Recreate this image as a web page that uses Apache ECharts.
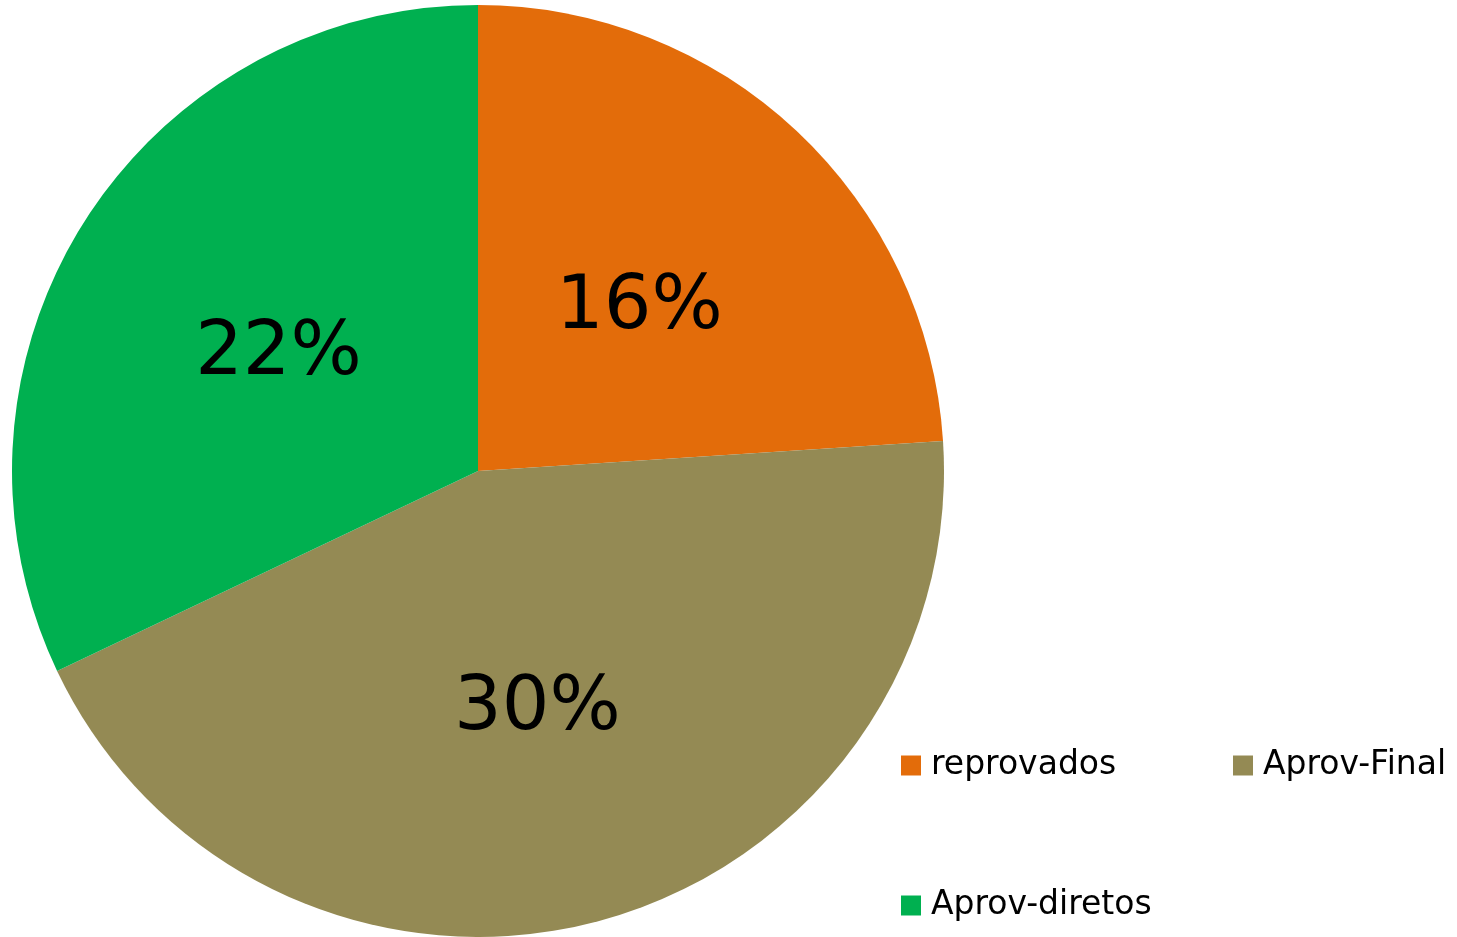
<!DOCTYPE html>
<html>
<head>
<meta charset="utf-8">
<script src="https://cdn.jsdelivr.net/npm/echarts@6/dist/echarts.min.js"></script>
<style>
html,body{margin:0;padding:0;background:#fff;}
#main{width:1457px;height:937px;}
</style>
</head>
<body>
<div id="main"></div>
<script>
const categories = ['reprovados', 'Aprov-Final', 'Aprov-diretos'];
// slice sizes estimated from the drawn angles; labels show rounded values
const values = [16.3, 29.9, 21.8];
const colors = ['#E36C0A', '#948A54', '#00B050'];

const chart = echarts.init(document.getElementById('main'), null, {renderer: 'canvas'});

const legendPos = [
  {left: 901, top: 749},
  {left: 1233, top: 749},
  {left: 901, top: 889}
];

const legends = categories.map((c, i) => ({
  data: [c],
  left: legendPos[i].left,
  top: legendPos[i].top,
  padding: 0,
  icon: 'rect',
  itemWidth: 20,
  itemHeight: 20,
  selectedMode: false,
  textStyle: {
    fontFamily: 'DejaVu Sans',
    fontSize: 33,
    color: '#000',
    padding: [0, 0, 0, 5]
  }
}));

chart.setOption({
  animation: false,
  backgroundColor: '#fff',
  color: colors,
  legend: legends,
  series: [{
    type: 'pie',
    center: [478, 471],
    radius: 466,
    startAngle: 90,
    clockwise: true,
    avoidLabelOverlap: false,
    itemStyle: {borderWidth: 0},
    label: {
      show: true,
      position: 'inside',
      formatter: p => '{v|' + Math.round(p.value) + '%}',
      color: '#000',
      rich: {
        v: {
          fontFamily: 'DejaVu Sans',
          fontSize: 75,
          color: '#000',
          padding: [20, 0, 0, 0]
        }
      }
    },
    labelLine: {show: false},
    emphasis: {disabled: true},
    data: categories.map((c, i) => ({name: c, value: values[i]}))
  }]
});
</script>
</body>
</html>
